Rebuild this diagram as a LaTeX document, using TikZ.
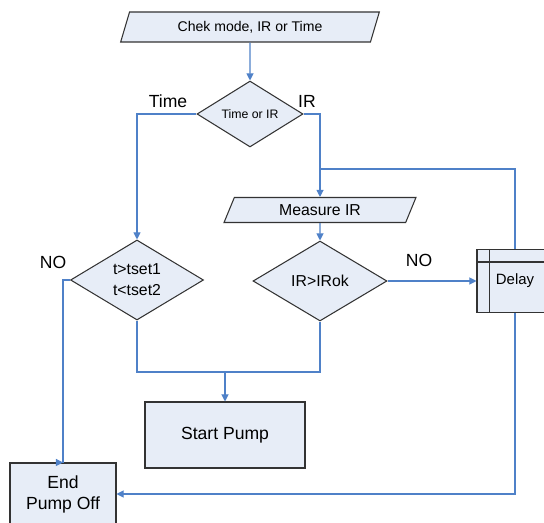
\documentclass[tikz,border=0pt]{standalone}
\usepackage{fontspec}
\setmainfont{Liberation Sans}
\usetikzlibrary{positioning,shapes.geometric,arrows.meta}
\definecolor{boxfill}{HTML}{E7EDF7}
\definecolor{flowline}{HTML}{4F81C8}

\begin{document}
\begin{tikzpicture}[x=0.02cm,y=-0.02cm,
    box/.style={draw=black!80,fill=boxfill,line width=0.6pt,inner sep=0pt,align=center},
    io/.style={box,trapezium,trapezium left angle=66,trapezium right angle=114,trapezium stretches=true},
    choice/.style={box,diamond},
    flow/.style={draw=flowline,line width=0.6pt},
    go/.style={flow,-{Triangle[length=4pt,width=4pt]}},
    lbl/.style={font=\fontsize{10}{12}\selectfont}]
  \useasboundingbox (0,0) rectangle (544,523);
  \clip (0,0) rectangle (544,523);
  \node[io,minimum width=5.18cm,minimum height=0.6cm,font=\fontsize{8}{10}\selectfont](chek) at (250,27){Chek mode, IR or Time};
  \node[choice,minimum width=2.12cm,minimum height=1.24cm,font=\fontsize{7}{9}\selectfont](tor) at (250,114){Time or IR};
  \node[choice,minimum width=2.66cm,minimum height=1.6cm,font=\fontsize{9}{12}\selectfont](tset) at (137,280){t>tset1\\t<tset2};
  \node[io,minimum width=3.86cm,minimum height=0.5cm,font=\fontsize{9}{11}\selectfont](measure) at (320,210){Measure IR};
  \node[choice,minimum width=2.68cm,minimum height=1.6cm,font=\fontsize{9}{11}\selectfont](irok) at (320,281){IR>IRok};
  \node[box,minimum width=1.52cm,minimum height=1.26cm,font=\fontsize{8.5}{10}\selectfont](delay) at (515,281){Delay};
  \node[box,minimum width=3.2cm,minimum height=1.32cm,font=\fontsize{10}{12}\selectfont](pump) at (225,435){Start Pump};
  \node[box,minimum width=2.12cm,minimum height=1.24cm,font=\fontsize{10}{12}\selectfont](endoff) at (63,494){End\\Pump Off};
  \draw[black!80,line width=0.6pt] ([xshift=0.26cm]delay.north west) -- ([xshift=0.26cm]delay.south west);
  \draw[black!80,line width=0.6pt] ([yshift=-0.26cm]delay.north west) -- ([yshift=-0.26cm]delay.north east);
  \node[lbl] (ltime) at (168,101) {Time};
  \node[lbl] (lir) at (307,101) {IR};
  \node[lbl] (lno1) at (53,262) {NO};
  \node[lbl] (lno2) at (419,260) {NO};
  \coordinate (back) at (320,169);
  \coordinate (merge) at (225,372);
  \draw[go] (chek) -- (tor);
  \draw[go] (tor.west) -| (tset.north);
  \draw[go] (tor.east) -| (measure.north);
  \draw[flow] (delay.north) |- (back);
  \draw[go] (measure) -- (irok);
  \draw[go] (irok.east) -- (delay.west);
  \draw[go] (tset.west) -- ++(-7,0) |- (endoff.north);
  \draw[go] (delay.south) |- (endoff.east);
  \draw[flow] (tset.south) |- (merge) -| (irok.south);
  \draw[go] (merge) -- (pump);
\end{tikzpicture}
\end{document}
